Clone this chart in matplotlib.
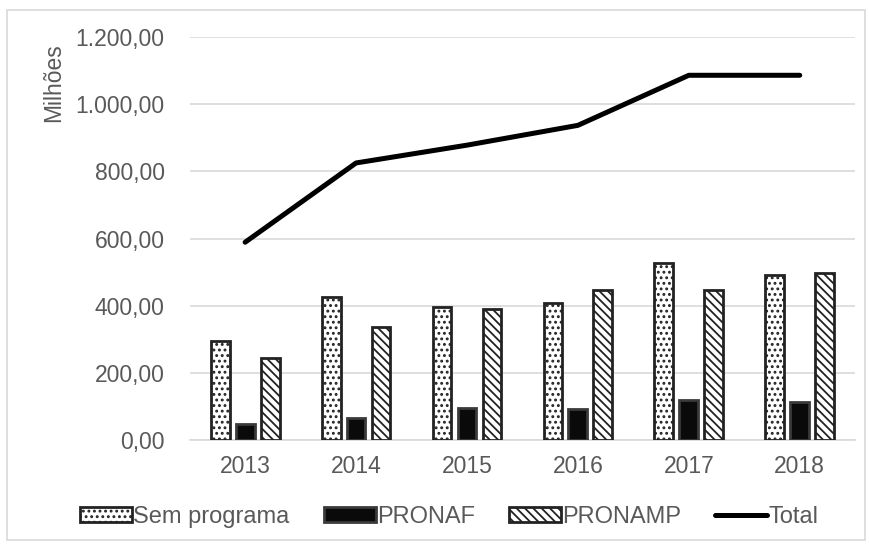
import matplotlib.pyplot as plt
import matplotlib.patches as mpatches
import numpy as np
from matplotlib.ticker import FuncFormatter

plt.rcParams['font.family'] = ['Liberation Sans', 'DejaVu Sans']
plt.rcParams['hatch.linewidth'] = 1.3

anos = ['2013', '2014', '2015', '2016', '2017', '2018']
sem_programa = [295, 425, 396, 408, 527, 491]
pronaf = [48, 65, 95, 92, 119, 113]
pronamp = [244, 336, 390, 446, 446, 497]
total = [589, 825, 878, 937, 1086, 1086]

cinza = '#595959'
fs = 16.5


def fmt_br(v, pos):
    # 1200 -> "1.200,00"
    s = '{:,.2f}'.format(v)
    return s.replace(',', 'X').replace('.', ',').replace('X', '.')


fig = plt.figure(figsize=(8.7, 5.44), dpi=100)
ax = fig.add_axes([0.218, 0.191, 0.765, 0.741])

# moldura cinza em volta do grafico
fig.patches.append(mpatches.Rectangle((0.008, 0.007), 0.986, 0.975, transform=fig.transFigure,
                                      fill=False, edgecolor='#d9d9d9', linewidth=1.2))

x = np.arange(len(anos))
w = 0.17
b1 = ax.bar(x - 0.225, sem_programa, w, facecolor='white', edgecolor='#222222', hatch='...',
            linewidth=2, label='Sem programa', zorder=3)
b2 = ax.bar(x, pronaf, w, facecolor='#0a0a0a', edgecolor='#3a3a3a',
            linewidth=2, label='PRONAF', zorder=3)
b3 = ax.bar(x + 0.225, pronamp, w, facecolor='white', edgecolor='#222222', hatch='\\\\\\\\',
            linewidth=2, label='PRONAMP', zorder=3)
l1, = ax.plot(x, total, color='black', linewidth=3.6, label='Total', zorder=4,
              solid_capstyle='round')

ax.set_xlim(-0.5, len(anos) - 0.5)
ax.set_ylim(0, 1200)
ax.set_yticks(np.arange(0, 1201, 200))
ax.yaxis.set_major_formatter(FuncFormatter(fmt_br))
ax.set_xticks(x)
ax.set_xticklabels(anos)

ax.grid(axis='y', color='#d9d9d9', linewidth=1.2, zorder=0)
for s in ['top', 'right', 'left']:
    ax.spines[s].set_visible(False)
ax.spines['bottom'].set_color('#d9d9d9')
ax.spines['bottom'].set_linewidth(1.2)
ax.tick_params(axis='both', length=0, labelsize=fs, colors=cinza)
ax.tick_params(axis='y', pad=18)
ax.tick_params(axis='x', pad=11)

fig.text(0.062, 0.849, 'Milhões', rotation=90, ha='center', va='center',
         fontsize=fs, color=cinza)

fig.legend(handles=[b1, b2, b3, l1], loc='center left', bbox_to_anchor=(0.092, 0.05),
           ncol=4, frameon=False, fontsize=17, handlelength=2.2, handleheight=0.55,
           handletextpad=0.05, columnspacing=1.45, borderpad=0, borderaxespad=0,
           labelcolor=cinza)

fig.savefig('out.png', dpi=100)
